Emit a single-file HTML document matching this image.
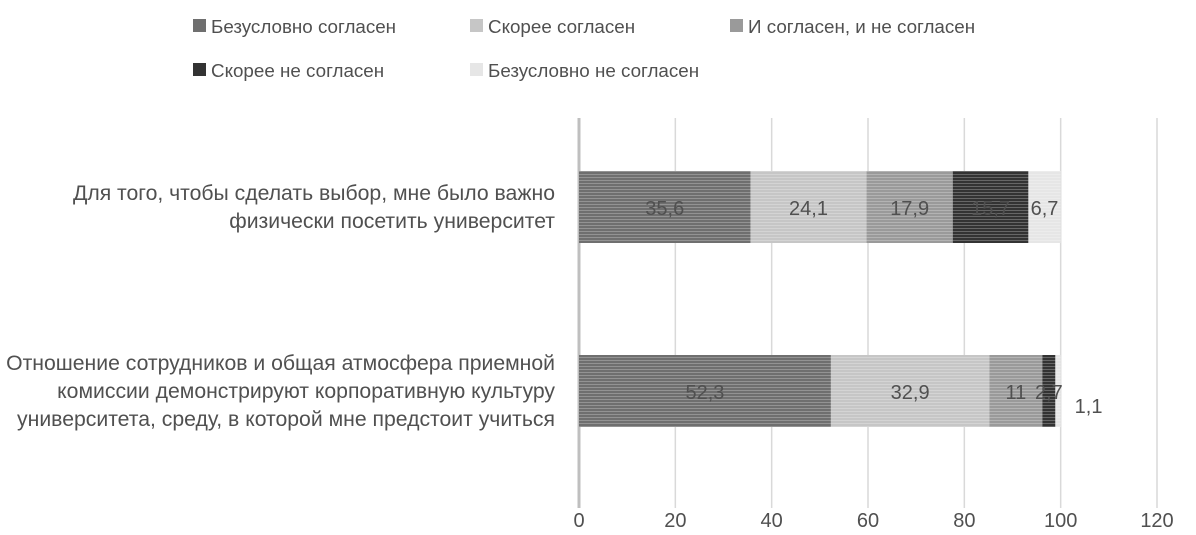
<!DOCTYPE html>
<html><head><meta charset="utf-8"><style>
body{margin:0;background:#fff;font-family:"Liberation Sans",sans-serif}
svg text{font-family:"Liberation Sans",sans-serif;fill:#505050}
</style></head><body>
<svg id="c" width="1196" height="530">
<defs>
<pattern id="str" width="4" height="3" patternUnits="userSpaceOnUse"><rect width="4" height="1" fill="rgba(255,255,255,0.25)"/></pattern>
</defs>
<g id="legend"></g>
<g id="grid"></g>
<g id="bars"></g>
<g id="labels"></g>
</svg>
<script>
const categories=["Для того, чтобы сделать выбор, мне было важно|физически посетить университет","Отношение сотрудников и общая атмосфера приемной|комиссии демонстрируют корпоративную культуру|университета, среду, в которой мне предстоит учиться"];
const seriesNames=["Безусловно согласен","Скорее согласен","И согласен, и не согласен","Скорее не согласен","Безусловно не согласен"];
const s1=[35.6,52.3];
const s2=[24.1,32.9];
const s3=[17.9,11];
const s4=[15.7,2.7];
const s5=[6.7,1.1];
const ticks=[0,20,40,60,80,100,120];
const colors=["#6f6f6f","#c6c6c6","#9a9a9a","#333333","#e6e6e6"];
const NS="http://www.w3.org/2000/svg";
const svg=document.getElementById('c');
function mk(t,a,p){const e=document.createElementNS(NS,t);for(const k in a)e.setAttribute(k,a[k]);p.appendChild(e);return e;}
const x0=579,x120=1157;
const xs=v=>x0+(x120-x0)*v/120;
const barH=72;
const ys=i=>171+i*184;
const grid=document.getElementById('grid');
ticks.forEach(t=>{
 const l=mk('line',{x1:xs(t),x2:xs(t),y1:118,y2:508,stroke:t===0?'#bfbfbf':'#d9d9d9','stroke-width':t===0?3:1.5},grid);
 
 
 const tx=mk('text',{x:xs(t),y:527,'text-anchor':'middle','font-size':20},grid);
 tx.textContent=t;
 
 
});
const series=[s1,s2,s3,s4,s5];
const bars=document.getElementById('bars');
categories.forEach((c,i)=>{
 let acc=0;const y=ys(i);
 series.forEach((s,k)=>{
  const v=s[i];
  const r=mk('rect',{x:xs(acc),y:y,width:xs(acc+v)-xs(acc),height:barH,fill:colors[k]},bars);
  
  
  mk('rect',{x:xs(acc),y:y,width:xs(acc+v)-xs(acc),height:barH,fill:'url(#str)'},bars);
  acc+=v;
 });
 acc=0;
 series.forEach((s,k)=>{
  const v=s[i];
  let lx=xs(acc+v/2),ly=y+barH/2+8,anchor='middle';
  if(v<2){lx=xs(acc+v)+14;ly=y+barH/2+22;anchor='start';}
  const t=mk('text',{x:lx,y:ly,'text-anchor':anchor,'font-size':20},bars);
  t.textContent=String(v).replace('.',',');
  
  
  acc+=v;
 });
 const lines=c.split('|');
 const lab=document.getElementById('labels');
 lines.forEach((ln,j)=>{
  const t=mk('text',{x:555,y:y+barH/2+7+(j-(lines.length-1)/2)*28,'text-anchor':'end','font-size':21.2},lab);
  t.textContent=ln;
  
  
 });
});
const leg=document.getElementById('legend');
const lp=[[193,33],[470,33],[730,33],[193,77],[470,77]];
seriesNames.forEach((n,k)=>{
 const g=mk('g',{},leg);
 
 
 mk('rect',{x:lp[k][0],y:lp[k][1]-14,width:13,height:13,fill:colors[k]},g);
 const t=mk('text',{x:lp[k][0]+18,y:lp[k][1],'font-size':18.8},g);
 t.textContent=n;
});
</script>
</body></html>
